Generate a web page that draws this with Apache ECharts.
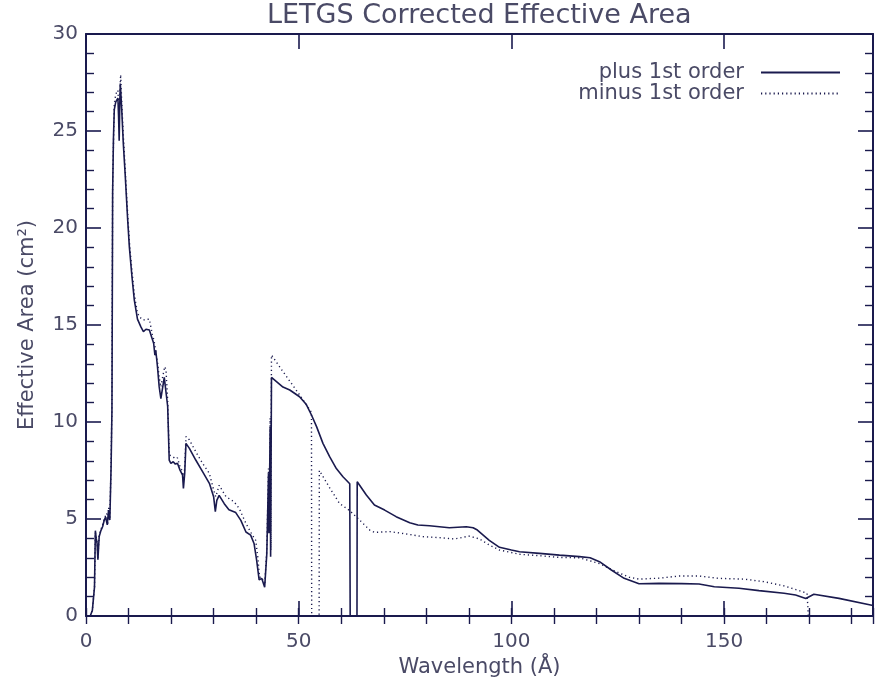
<!DOCTYPE html>
<html>
<head>
<meta charset="utf-8">
<title>LETGS Corrected Effective Area</title>
<script src="https://cdn.jsdelivr.net/npm/echarts@6/dist/echarts.min.js"></script>
<style>
  html, body { margin: 0; padding: 0; background: #ffffff; }
  #chart { width: 875px; height: 684px; }
</style>
</head>
<body>
<div id="chart"></div>
<script>
// Effective area of the LETGS, plus and minus first orders (cm^2 vs Angstrom)
const plusWave = [1.0, 1.5, 2.0, 2.2, 2.4, 2.6, 2.8, 3.1, 3.5, 3.9, 4.3, 4.6, 4.85, 5.0, 5.1, 5.3, 5.45, 5.6, 5.9, 6.1,
  6.26, 6.45, 6.65, 7.0, 7.2, 7.5, 7.65, 7.8, 7.95, 8.06, 8.2, 8.4, 8.76, 9.2, 9.8, 10.2, 10.8, 11.35, 12.1, 12.9,
  13.5, 14.1, 14.9, 15.4, 15.9, 16.2, 16.4, 16.8, 17.2, 17.6, 18.0, 18.4, 18.8, 19.2, 19.56, 19.95, 20.5, 21.0, 21.5, 22.1,
  22.7, 22.9, 23.2, 23.5, 24.3, 25.8, 27.4, 29.0, 30.0, 30.4, 30.75, 31.3, 32.5, 33.6, 35.2, 36.4, 37.6, 38.7, 39.5, 40.1,
  40.7, 41.3, 41.7, 42.0, 42.5, 42.9, 43.0, 43.3, 43.4, 43.6, 46.3, 47.9, 50.2, 51.8, 53.0, 54.2, 55.7, 57.3, 58.85, 60.4,
  62.0, 62.1, 63.7, 63.75, 65.9, 67.8, 70.2, 72.9, 76.1, 78.0, 80.75, 85.4, 89.4, 91.0, 92.0, 94.8, 97.2, 100.0, 101.9, 106.6,
  111.3, 116.0, 118.5, 120.7, 123.5, 126.5, 130.0, 134.7, 140.0, 144.1, 147.7, 153.5, 158.2, 164.1, 166.8, 169.2, 171.1, 177.0, 185.0];
const plusArea = [0, 0.3, 1.5, 4.4, 4.0, 3.75, 2.9, 4.1, 4.4, 4.6, 4.95, 5.1, 5.2, 4.7, 4.6, 5.45, 5.1, 4.95, 7.7, 10.6,
  21.8, 24.6, 26.1, 26.5, 26.6, 26.7, 25.8, 24.5, 26.5, 27.45, 26.9, 26.1, 24.4, 22.8, 20.4, 19.0, 17.5, 16.3, 15.3, 14.9,
  14.66, 14.78, 14.74, 14.4, 14.06, 13.45, 13.7, 12.85, 11.82, 11.2, 11.3, 12.3, 12.25, 10.8, 8.04, 7.87, 7.95, 7.83, 7.87, 7.52,
  7.26, 6.58, 7.35, 8.9, 8.64, 8.04, 7.44, 6.84, 6.15, 5.38, 5.96, 6.22, 5.79, 5.48, 5.33, 4.93, 4.33, 4.17, 3.74, 2.89,
  1.86, 1.94, 1.94, 1.48, 3.2, 7.35, 4.26, 9.76, 3.05, 12.3, 11.8, 11.65, 11.3, 10.9, 10.36, 9.76, 8.9, 8.2, 7.6, 7.18,
  6.82, 0, 0, 6.92, 6.24, 5.72, 5.46, 5.12, 4.81, 4.69, 4.65, 4.55, 4.6, 4.55, 4.43, 3.9, 3.54, 3.4, 3.31, 3.23,
  3.14, 3.06, 3.0, 2.8, 2.37, 1.94, 1.66, 1.68, 1.67, 1.65, 1.51, 1.43, 1.31, 1.17, 1.08, 0.9, 1.12, 0.91, 0.54];

const minusWave = [1.0, 1.5, 2.0, 2.2, 2.6, 2.8, 3.1, 3.9, 4.3, 4.85, 5.1, 5.3, 5.6, 5.9, 6.1, 6.26, 6.65, 7.0, 7.2, 7.5,
  7.8, 8.14, 8.4, 8.76, 9.2, 9.8, 10.2, 10.8, 11.35, 12.1, 12.9, 13.5, 14.1, 14.9, 15.6, 16.0, 16.4, 16.8, 17.2, 17.6,
  18.0, 18.5, 18.8, 19.2, 19.56, 19.95, 20.5, 21.0, 21.5, 22.1, 22.7, 22.9, 23.2, 23.5, 24.3, 25.8, 27.4, 29.0, 30.0, 30.5,
  31.3, 32.9, 34.8, 36.0, 37.6, 39.1, 39.9, 40.4, 40.8, 41.3, 41.7, 42.0, 42.5, 42.9, 43.1, 43.3, 43.45, 43.6, 46.3, 50.2,
  53.0, 53.05, 54.8, 54.85, 57.3, 59.6, 62.0, 64.3, 66.7, 67.8, 71.4, 75.3, 79.2, 83.1, 86.6, 90.1, 92.5, 94.8, 97.2, 101.9,
  106.6, 111.3, 116.0, 120.7, 123.5, 126.5, 127.7, 130.0, 134.7, 139.4, 144.1, 148.8, 154.7, 159.4, 164.1, 167.6, 169.5, 169.8, 185.0];
const minusArea = [0, 0.3, 1.5, 4.3, 3.8, 3.0, 4.2, 4.7, 5.0, 5.3, 4.7, 5.6, 5.0, 7.9, 11.0, 22.2, 26.4, 26.9, 27.0, 27.1,
  26.0, 27.9, 26.5, 24.8, 23.1, 20.7, 19.3, 17.8, 16.6, 15.6, 15.35, 15.25, 15.3, 15.3, 14.5, 14.2, 13.6, 13.1, 12.3, 11.8,
  12.3, 12.85, 12.7, 11.1, 8.3, 8.3, 8.2, 8.1, 8.15, 7.7, 7.44, 7.0, 7.6, 9.25, 9.08, 8.47, 7.87, 7.35, 6.5, 6.15,
  6.74, 6.15, 5.89, 5.55, 4.77, 4.17, 3.9, 3.0, 2.0, 2.0, 2.0, 1.6, 3.4, 7.6, 4.6, 10.2, 3.4, 13.45, 12.6, 11.4,
  10.5, 0, 0, 7.5, 6.6, 5.8, 5.43, 4.95, 4.43, 4.31, 4.35, 4.23, 4.09, 4.04, 3.97, 4.12, 3.97, 3.66, 3.4, 3.18,
  3.11, 3.02, 3.0, 2.7, 2.4, 2.11, 2.0, 1.9, 1.95, 2.06, 2.06, 1.94, 1.9, 1.77, 1.55, 1.31, 1.17, 0, 0];

const seriesNames = ['plus 1st order', 'minus 1st order'];
const titleText = 'LETGS Corrected Effective Area';
const xTitle = 'Wavelength (\u00c5)';
const yTitle = 'Effective Area (cm\u00b2)';

const ink = '#1a1a4e';
const textInk = '#4a4a66';
const font = 'DejaVu Sans';

const zip = (xs, ys) => xs.map((x, i) => [x, ys[i]]);

const xBase = {
  type: 'value', min: 0, max: 185, gridIndex: 0,
  splitLine: { show: false },
  axisLine: { show: true, onZero: false, lineStyle: { color: ink, width: 2 } }
};
const yBase = {
  type: 'value', min: 0, max: 30, gridIndex: 0,
  splitLine: { show: false },
  axisLine: { show: true, onZero: false, lineStyle: { color: ink, width: 2 } }
};

const majorTick = { show: true, inside: true, length: 15, lineStyle: { color: ink, width: 1.6 } };
const minorTickStyle = { show: true, inside: true, length: 8, lineStyle: { color: ink, width: 1.4 } };

const chart = echarts.init(document.getElementById('chart'), null, { renderer: 'canvas' });
chart.setOption({
  animation: false,
  backgroundColor: '#ffffff',
  title: {
    // positioned so the title sits centred over the plotting area
    text: titleText, left: 267, top: 0,
    padding: [2, 0, 0, 0],
    textStyle: { fontFamily: font, fontSize: 27, fontWeight: 'normal', color: textInk }
  },
  legend: {
    data: seriesNames,
    orient: 'vertical', right: 34, top: 62, padding: 0,
    align: 'right',
    itemWidth: 79, itemHeight: 14, itemGap: 0,
    itemStyle: { color: 'rgba(0,0,0,0)', borderWidth: 0, opacity: 0 },
    textStyle: { fontFamily: font, fontSize: 21, lineHeight: 18, color: textInk, padding: [0, 12, 0, 0] }
  },
  grid: { left: 86, right: 2, top: 34, bottom: 68, containLabel: false },
  xAxis: [
    Object.assign({}, xBase, {
      position: 'bottom', interval: 50,
      name: xTitle, nameLocation: 'middle', nameGap: 40,
      nameTextStyle: { fontFamily: font, fontSize: 21, color: textInk },
      axisTick: majorTick,
      axisLabel: { show: true, margin: 16, showMaxLabel: false, fontFamily: font, fontSize: 20, color: textInk }
    }),
    Object.assign({}, xBase, {
      position: 'bottom', interval: 10,
      axisLine: { show: false }, axisTick: minorTickStyle, axisLabel: { show: false }
    }),
    Object.assign({}, xBase, {
      position: 'top', interval: 50,
      axisTick: majorTick, axisLabel: { show: false }
    }),
    Object.assign({}, xBase, {
      position: 'top', interval: 10,
      axisLine: { show: false }, axisTick: minorTickStyle, axisLabel: { show: false }
    })
  ],
  yAxis: [
    Object.assign({}, yBase, {
      position: 'left', interval: 5,
      name: yTitle, nameLocation: 'middle', nameGap: 48, nameRotate: 90,
      nameTextStyle: { fontFamily: font, fontSize: 21, color: textInk },
      axisTick: majorTick,
      minorTick: Object.assign({ splitNumber: 5 }, minorTickStyle),
      axisLabel: { show: true, margin: 8, fontFamily: font, fontSize: 20, color: textInk }
    }),
    Object.assign({}, yBase, {
      position: 'right', interval: 5,
      axisTick: majorTick,
      minorTick: Object.assign({ splitNumber: 5 }, minorTickStyle),
      axisLabel: { show: false }
    })
  ],
  series: [
    {
      name: seriesNames[0], type: 'line', xAxisIndex: 0, yAxisIndex: 0,
      data: zip(plusWave, plusArea),
      symbol: 'none', showSymbol: false, smooth: false, clip: true,
      lineStyle: { color: ink, width: 1.6, type: 'solid' },
      itemStyle: { color: ink }
    },
    {
      name: seriesNames[1], type: 'line', xAxisIndex: 0, yAxisIndex: 0,
      data: zip(minusWave, minusArea),
      symbol: 'none', showSymbol: false, smooth: false, clip: true,
      lineStyle: { color: ink, width: 1.4, type: [1.2, 3] },
      itemStyle: { color: ink }
    }
  ]
});
</script>
</body>
</html>
